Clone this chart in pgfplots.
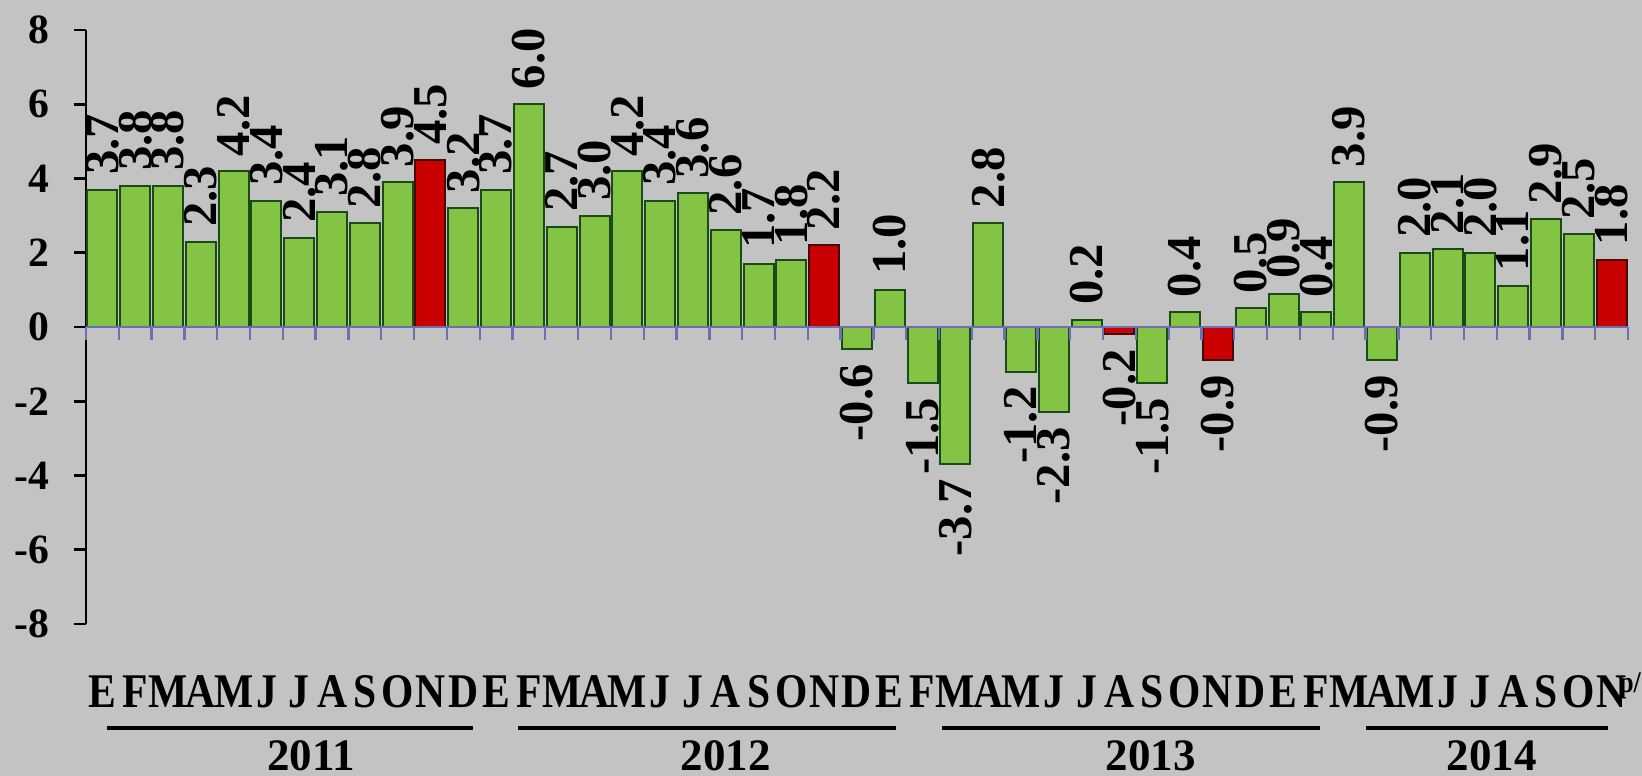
\documentclass[border=0pt]{standalone}
\usepackage{fontspec}
\setmainfont{Liberation Serif}
\newfontfamily\condfont[FakeStretch=0.86]{Liberation Serif}
\usepackage{pgfplots}
\pgfplotsset{compat=1.18}
\usepackage{pgfplotstable}

\definecolor{bg}{RGB}{195,195,195}
\definecolor{gfill}{RGB}{132,196,68}
\definecolor{gline}{RGB}{25,75,25}
\definecolor{rfill}{RGB}{200,0,0}
\definecolor{rline}{RGB}{70,10,10}
\definecolor{zl}{RGB}{110,110,180}

\pgfplotstableread{
x y
0 3.7
1 3.8
2 3.8
3 2.3
4 4.2
5 3.4
6 2.4
7 3.1
8 2.8
9 3.9
11 3.2
12 3.7
13 6.0
14 2.7
15 3.0
16 4.2
17 3.4
18 3.6
19 2.6
20 1.7
21 1.8
24 1.0
27 2.8
30 0.2
33 0.4
35 0.5
36 0.9
37 0.4
38 3.9
40 2.0
41 2.1
42 2.0
43 1.1
44 2.9
45 2.5
}\greenpos

\pgfplotstableread{
x y
23 -0.6
25 -1.5
26 -3.7
28 -1.2
29 -2.3
32 -1.5
39 -0.9
}\greenneg

\pgfplotstableread{
x y
10 4.5
22 2.2
46 1.8
}\redpos

\pgfplotstableread{
x y
31 -0.2
34 -0.9
}\redneg

\pgfplotsset{/pgf/number format/assume math mode=true}

\begin{document}
\begin{tikzpicture}
\path[use as bounding box, fill=bg] (-25.8pt,-45.6pt) rectangle (466.8pt,187.2pt);
\begin{axis}[
  at={(0,0)}, anchor=south west,
  scale only axis,
  width=462.6pt, height=178.2pt,
  xmin=-0.5, xmax=46.5,
  ymin=-8, ymax=8,
  axis lines*=left,
  x axis line style={draw=none},
  y axis line style={black, line width=0.8pt},
  ytick={-8,-6,-4,-2,0,2,4,6,8},
  yticklabels={-8,-6,-4,-2,0,2,4,6,8},
  ytick style={black, line width=0.8pt},
  tick align=outside,
  major tick length=3.6pt,
  yticklabel style={font=\fontsize{12.5}{13}\selectfont\bfseries, anchor=east, xshift=-3.9pt},
  xtick={0,...,46},
  xtick style={draw=none},
  xticklabels={E,F,M,A,M,J,J,A,S,O,N,D,E,F,M,A,M,J,J,A,S,O,N,D,E,F,M,A,M,J,J,A,S,O,N,D,E,F,M,A,M,J,J,A,S,O,{N\rlap{\kern-2.2pt\raisebox{4.5pt}{\fontsize{9}{9}\selectfont p/}}}},
  xticklabel style={font=\condfont\bfseries\fontsize{14.5}{15}\selectfont, anchor=base, yshift=-21.5pt, inner sep=0pt},
  ybar, bar width=9pt,
  clip=false,
  nodes near coords={\pgfmathprintnumber[fixed,fixed zerofill,precision=1]{\pgfplotspointmeta}},
  every node near coord/.append style={font=\fontsize{14.6}{15}\selectfont\bfseries, rotate=90, inner ysep=0pt, inner xsep=4.2pt, text=black},
]
\addplot[bar shift=0pt, draw=gline, line width=0.6pt, fill=gfill,
  nodes near coords style={anchor=west}] table[x=x,y=y] {\greenpos};
\addplot[bar shift=0pt, draw=gline, line width=0.6pt, fill=gfill,
  nodes near coords style={anchor=east}] table[x=x,y=y] {\greenneg};
\addplot[bar shift=0pt, draw=rline, line width=0.6pt, fill=rfill,
  nodes near coords style={anchor=west}] table[x=x,y=y] {\redpos};
\addplot[bar shift=0pt, draw=rline, line width=0.6pt, fill=rfill,
  nodes near coords style={anchor=east}] table[x=x,y=y] {\redneg};

\draw[zl, line width=0.7pt] (axis cs:-0.5,0) -- (axis cs:46.5,0);
\pgfplotsinvokeforeach{-0.5,0.5,...,46.5}{
  \draw[zl, line width=0.7pt] (axis cs:#1,0) -- ([yshift=-3.9pt]axis cs:#1,0);
}

\draw[line width=1.2pt] ([yshift=-31.2pt]axis cs:0.14,-8) -- ([yshift=-31.2pt]axis cs:11.3,-8);
\draw[line width=1.2pt] ([yshift=-31.2pt]axis cs:12.67,-8) -- ([yshift=-31.2pt]axis cs:24.2,-8);
\draw[line width=1.2pt] ([yshift=-31.2pt]axis cs:25.6,-8) -- ([yshift=-31.2pt]axis cs:37.1,-8);
\draw[line width=1.2pt] ([yshift=-31.2pt]axis cs:38.5,-8) -- ([yshift=-31.2pt]axis cs:45.9,-8);

\node[anchor=base, font=\fontsize{13.5}{14}\selectfont\bfseries, inner sep=0pt] at ([yshift=-43.8pt]axis cs:6.36,-8) {2011};
\node[anchor=base, font=\fontsize{13.5}{14}\selectfont\bfseries, inner sep=0pt] at ([yshift=-43.8pt]axis cs:19.0,-8) {2012};
\node[anchor=base, font=\fontsize{13.5}{14}\selectfont\bfseries, inner sep=0pt] at ([yshift=-43.8pt]axis cs:31.96,-8) {2013};
\node[anchor=base, font=\fontsize{13.5}{14}\selectfont\bfseries, inner sep=0pt] at ([yshift=-43.8pt]axis cs:42.35,-8) {2014};
\end{axis}
\end{tikzpicture}
\end{document}
